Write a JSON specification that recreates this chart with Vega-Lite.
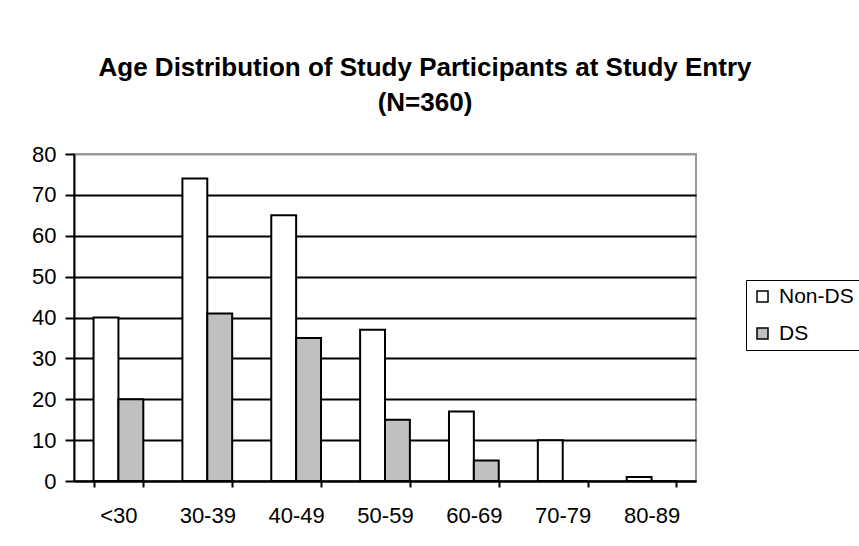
{
  "$schema": "https://vega.github.io/schema/vega-lite/v6.json",
  "autosize": {"type": "none"},
  "width": 622,
  "height": 327,
  "padding": {"left": 74, "top": 154, "right": 163, "bottom": 65},
  "background": "white",
  "title": {
    "text": ["Age Distribution of Study Participants at Study Entry", "(N=360)"],
    "font": "Arial, Liberation Sans, sans-serif",
    "fontSize": 26,
    "fontWeight": "bold",
    "color": "black",
    "lineHeight": 35,
    "anchor": "middle",
    "dx": 40,
    "offset": 27
  },
  "data": {
    "values": [
      {"age": "<30", "group": "Non-DS", "count": 40},
      {"age": "<30", "group": "DS", "count": 20},
      {"age": "30-39", "group": "Non-DS", "count": 74},
      {"age": "30-39", "group": "DS", "count": 41},
      {"age": "40-49", "group": "Non-DS", "count": 65},
      {"age": "40-49", "group": "DS", "count": 35},
      {"age": "50-59", "group": "Non-DS", "count": 37},
      {"age": "50-59", "group": "DS", "count": 15},
      {"age": "60-69", "group": "Non-DS", "count": 17},
      {"age": "60-69", "group": "DS", "count": 5},
      {"age": "70-79", "group": "Non-DS", "count": 10},
      {"age": "70-79", "group": "DS", "count": 0},
      {"age": "80-89", "group": "Non-DS", "count": 1},
      {"age": "80-89", "group": "DS", "count": 0}
    ]
  },
  "mark": {"type": "bar", "stroke": "black", "strokeWidth": 2, "strokeJoin": "miter"},
  "encoding": {
    "x": {
      "field": "age",
      "type": "nominal",
      "sort": ["<30", "30-39", "40-49", "50-59", "60-69", "70-79", "80-89"],
      "scale": {"paddingInner": 0.44, "paddingOuter": 0.22},
      "axis": {
        "title": null,
        "labelAngle": 0,
        "tickBand": "extent",
        "tickSize": 6,
        "tickWidth": 2,
        "tickColor": "black",
        "domainColor": "black",
        "domainWidth": 2,
        "labelPadding": 18,
        "labelFont": "Arial, Liberation Sans, sans-serif",
        "labelFontSize": 22,
        "labelColor": "black",
        "grid": false
      }
    },
    "xOffset": {
      "field": "group",
      "type": "nominal",
      "sort": ["Non-DS", "DS"],
      "scale": {"paddingInner": 0, "paddingOuter": 0}
    },
    "y": {
      "field": "count",
      "type": "quantitative",
      "scale": {"domain": [0, 80], "nice": false},
      "axis": {
        "title": null,
        "values": [0, 10, 20, 30, 40, 50, 60, 70, 80],
        "tickSize": 9,
        "tickWidth": 2,
        "tickColor": "black",
        "domainColor": "black",
        "domainWidth": 2,
        "labelPadding": 9,
        "labelFont": "Arial, Liberation Sans, sans-serif",
        "labelFontSize": 22,
        "labelColor": "black",
        "grid": true,
        "gridWidth": 2,
        "gridColor": {"condition": {"test": "datum.value == 80", "value": "#999999"}, "value": "black"}
      }
    },
    "fill": {
      "field": "group",
      "type": "nominal",
      "sort": ["Non-DS", "DS"],
      "scale": {"domain": ["Non-DS", "DS"], "range": ["white", "#c0c0c0"]},
      "legend": {
        "title": null,
        "orient": "none",
        "legendX": 672,
        "legendY": 126,
        "strokeColor": "black",
        "padding": 6,
        "symbolType": "square",
        "symbolSize": 121,
        "symbolStrokeColor": "black",
        "symbolStrokeWidth": 1.5,
        "labelFont": "Arial, Liberation Sans, sans-serif",
        "labelFontSize": 21,
        "labelColor": "black",
        "labelOffset": 6,
        "rowPadding": 15
      }
    }
  },
  "config": {
    "view": {"stroke": "#999999", "strokeWidth": 2}
  }
}
